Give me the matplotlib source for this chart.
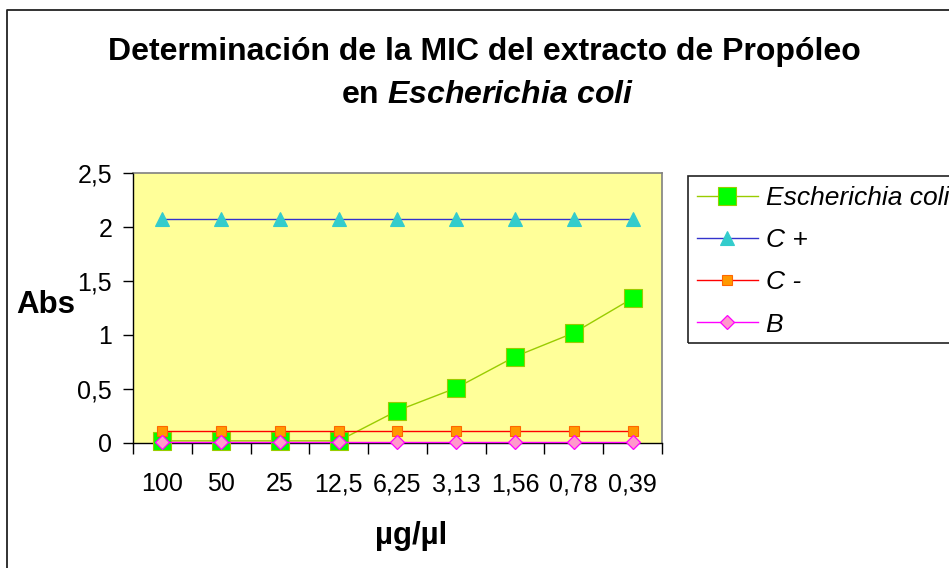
import matplotlib
matplotlib.use("Agg")
import matplotlib.pyplot as plt
from matplotlib.lines import Line2D
from matplotlib.patches import Rectangle
from matplotlib.ticker import FixedLocator, FuncFormatter, NullFormatter

# Concentraciones (µg/µl) y absorbancias
concentraciones = ["100", "50", "25", "12,5", "6,25", "3,13", "1,56", "0,78", "0,39"]
escherichia_coli = [0.02, 0.02, 0.02, 0.02, 0.30, 0.51, 0.80, 1.02, 1.34]
control_pos = [2.07, 2.07, 2.07, 2.07, 2.07, 2.07, 2.07, 2.07, 2.07]
control_neg = [0.11, 0.11, 0.11, 0.11, 0.11, 0.11, 0.11, 0.11, 0.11]
blanco = [0.01, 0.01, 0.01, 0.01, 0.01, 0.01, 0.01, 0.01, 0.01]
y_ticks = [0, 0.5, 1, 1.5, 2, 2.5]

plt.rcParams["font.family"] = ["Liberation Sans", "DejaVu Sans"]
plt.rcParams["mathtext.fontset"] = "custom"
plt.rcParams["mathtext.it"] = "Liberation Sans:italic:bold"
plt.rcParams["mathtext.rm"] = "Liberation Sans:bold"

W, H = 949, 568
fig = plt.figure(figsize=(W / 100, H / 100), dpi=100)
fig.patch.set_facecolor("white")

# Marco exterior del gráfico
fig.add_artist(Line2D([7 / W, 7 / W, 1.01], [-0.01, 1 - 10 / H, 1 - 10 / H],
                      transform=fig.transFigure, color="#222222", lw=1.3))

left, right, top, bottom = 133, 662, 173, 443
ax = fig.add_axes([left / W, 1 - bottom / H, (right - left) / W, (bottom - top) / H])
ax.set_facecolor("#FFFF99")

x = list(range(len(concentraciones)))
ax.plot(x, escherichia_coli, color="#99CC00", lw=1, marker="s", ms=13.5,
        mfc="#00FF00", mec="#99CC00", mew=0.8, label="Escherichia coli",
        zorder=3, clip_on=False)
ax.plot(x, control_pos, color="#3333CC", lw=1, marker="^", ms=10,
        mfc="#33CCCC", mec="#33CCCC", mew=0.8, label="C +", zorder=4, clip_on=False)
ax.plot(x, control_neg, color="#FF0000", lw=1, marker="s", ms=7.5,
        mfc="#FF9900", mec="#FF6600", mew=0.8, label="C -", zorder=5, clip_on=False)
ax.plot(x, blanco, color="#FF00FF", lw=1, marker="D", ms=7.5,
        mfc="#FF99CC", mec="#FF00FF", mew=0.9, label="B", zorder=6, clip_on=False)

ax.set_xlim(-0.5, len(concentraciones) - 0.5)
ax.set_ylim(0, 2.5)

# Eje de categorías: marcas entre categorías, etiquetas centradas
ax.xaxis.set_major_locator(FixedLocator([i - 0.5 for i in range(len(concentraciones) + 1)]))
ax.xaxis.set_major_formatter(NullFormatter())
ax.xaxis.set_minor_locator(FixedLocator(x))
ax.set_xticklabels(concentraciones, minor=True)
ax.tick_params(axis="x", which="major", direction="out", length=8, width=1, color="black")
ax.tick_params(axis="x", which="minor", length=0, pad=21, labelsize=18)

ax.set_yticks(y_ticks)
ax.yaxis.set_major_formatter(FuncFormatter(lambda v, p: f"{v:g}".replace(".", ",")))
ax.tick_params(axis="y", direction="out", length=7, width=1, color="black", pad=8, labelsize=18)

for s in ("left", "bottom"):
    ax.spines[s].set_color("black")
    ax.spines[s].set_linewidth(1)
for s in ("top", "right"):
    ax.spines[s].set_color("#808080")
    ax.spines[s].set_linewidth(1.2)
ax.set_axisbelow(False)

fig.text(46 / W, 1 - 305 / H, "Abs", ha="center", va="center", fontsize=22.5, fontweight="bold")
fig.text(411 / W, 1 - 536 / H, "µg/µl", ha="center", va="center", fontsize=22.5, fontweight="bold")

fig.text(484 / W, 1 - 52 / H, "Determinación de la MIC del extracto de Propóleo",
         ha="center", va="center", fontsize=23, fontweight="bold")
fig.text(488 / W, 1 - 95 / H, r"en $\mathit{Escherichia\ coli}$",
         ha="center", va="center", fontsize=23, fontweight="bold")

# Leyenda con su marco
fig.add_artist(Rectangle((688 / W, 1 - 343 / H), 0.5, (343 - 176) / H,
                         transform=fig.transFigure, fill=False, ec="#222222", lw=1.2))
leg = fig.legend(loc="upper left", bbox_to_anchor=(697 / W, 1 - 186 / H),
                 frameon=False, prop={"style": "italic", "size": 19},
                 handlelength=2.3, handletextpad=0.3, labelspacing=0.69,
                 borderaxespad=0, borderpad=0)

fig.savefig("out.png", dpi=100)
